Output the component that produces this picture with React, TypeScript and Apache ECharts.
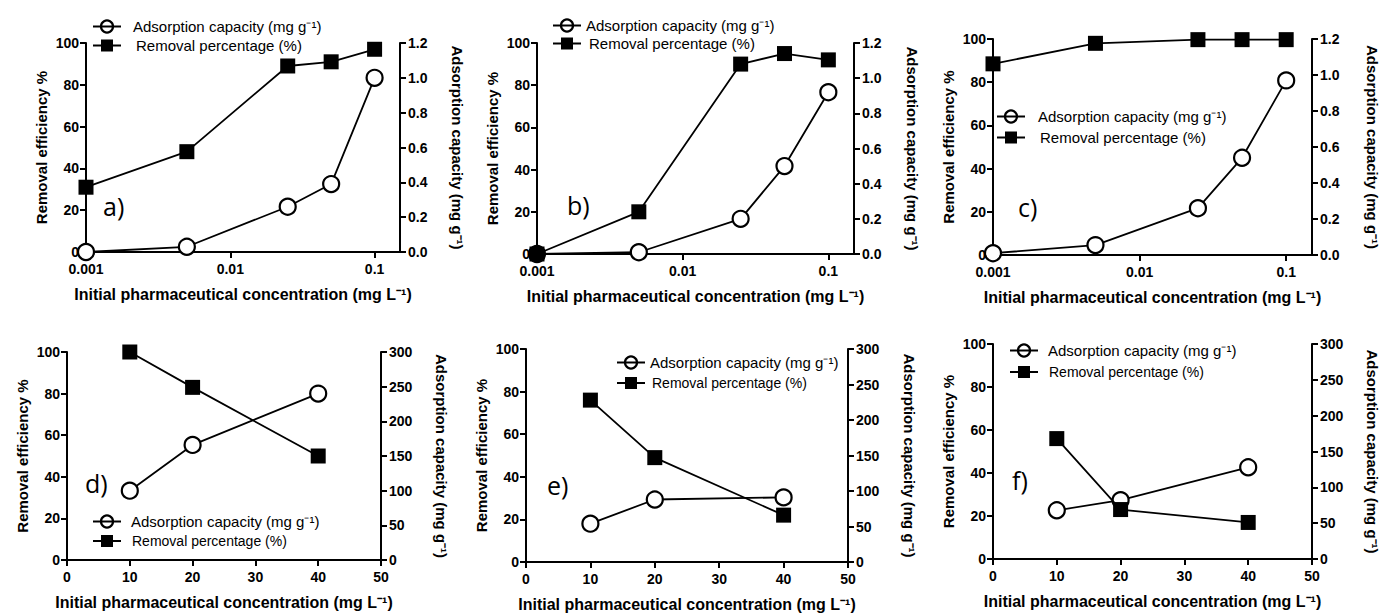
import React, { useEffect, useRef } from "react";
import * as echarts from "echarts";

// ---------- data ----------
const logConc = [0.001, 0.005, 0.025, 0.05, 0.1];
const linConc = [10, 20, 40];

const removalA = [31, 48, 89, 91, 97];
const adsorptionA = [0.0, 0.03, 0.26, 0.39, 1.0];
const removalB = [0, 20, 90, 95, 92];
const adsorptionB = [0.0, 0.01, 0.2, 0.5, 0.92];
const removalC = [88.5, 98, 99.7, 99.7, 99.7];
const adsorptionC = [0.01, 0.055, 0.26, 0.54, 0.97];
const removalD = [100, 83, 50];
const adsorptionD = [100, 166, 240];
const removalE = [76, 49, 22];
const adsorptionE = [54, 88, 91];
const removalF = [56, 23, 17];
const adsorptionF = [68, 82, 128];

const panelLabels = ["a)", "b)", "c)", "d)", "e)", "f)"];
const adsName = "Adsorption capacity (mg g\u207B\u00B9)";
const remName = "Removal percentage (%)";
const xName = "Initial pharmaceutical concentration (mg L\u207B\u00B9)";
const leftName = "Removal efficiency %";
const rightName = "Adsorption capacity (mg g\u207B\u00B9)";

// ---------- layout ----------
const panels = [
  { x: logConc, rem: removalA, ads: adsorptionA, log: true, rMax: 1.2, rInt: 0.2, rGap: 50,
    grid: { left: 86, top: 43, width: 314, height: 209 },
    legend: { left: 92, top: 19, itemGap: 4, remSize: 15, adsPad: 7, remPad: 10 }, label: [103, 206] },
  { x: logConc, rem: removalB, ads: adsorptionB, log: true, rMax: 1.2, rInt: 0.2, rGap: 51,
    grid: { left: 537, top: 43, width: 317, height: 211 },
    legend: { left: 552, top: 18, itemGap: 3, remSize: 15, adsPad: 0, remPad: 3 }, label: [567, 205] },
  { x: logConc, rem: removalC, ads: adsorptionC, log: true, rMax: 1.2, rInt: 0.2, rGap: 53,
    grid: { left: 993, top: 39, width: 322, height: 216 },
    legend: { left: 996, top: 109, itemGap: 6, remSize: 15, adsPad: 8, remPad: 10 }, label: [1018, 207] },
  { x: linConc, rem: removalD, ads: adsorptionD, log: false, rMax: 300, rInt: 50, rGap: 53,
    grid: { left: 67, top: 352, width: 314, height: 208 },
    legend: { left: 92, top: 514, itemGap: 5, remSize: 14, adsPad: 5, remPad: 6 }, label: [85, 483] },
  { x: linConc, rem: removalE, ads: adsorptionE, log: false, rMax: 300, rInt: 50, rGap: 54,
    grid: { left: 526, top: 349, width: 322, height: 214 },
    legend: { left: 616, top: 355, itemGap: 6, remSize: 14, adsPad: 0, remPad: 2 }, label: [547, 485] },
  { x: linConc, rem: removalF, ads: adsorptionF, log: false, rMax: 300, rInt: 50, rGap: 53,
    grid: { left: 993, top: 344, width: 322, height: 215 },
    legend: { left: 1009, top: 343, itemGap: 7, remSize: 14, adsPad: 5, remPad: 6 }, label: [1012, 480] },
];

const FONT = "'Liberation Sans', Arial, sans-serif";
const axisLineStyle = { lineStyle: { color: "#000", width: 2 } };
const tickStyle = { show: true, length: 6, lineStyle: { color: "#000", width: 2 } };
const labelStyle = { color: "#000", fontFamily: FONT, fontWeight: "bold" as const, fontSize: 14 };
const nameStyle = { color: "#000", fontFamily: FONT, fontWeight: "bold" as const, fontSize: 15 };
const xNameStyle = { ...nameStyle, fontSize: 16 };

function buildOption() {
  const grid: any[] = [];
  const xAxis: any[] = [];
  const yAxis: any[] = [];
  const series: any[] = [];
  const legend: any[] = [];
  const graphic: any[] = [];

  panels.forEach((p, i) => {
    grid.push({ ...p.grid, containLabel: false });
    if (p.log) {
      xAxis.push({
        gridIndex: i, type: "log", logBase: 10, min: 0.001, max: 0.15,
        axisLine: { ...axisLineStyle, onZero: false }, axisTick: tickStyle, splitLine: { show: false },
        axisLabel: {
          ...labelStyle, margin: 10, showMaxLabel: false,
          formatter: (v: number) => String(Math.pow(10, Math.round(Math.log10(v)))),
        },
        name: xName, nameLocation: "middle", nameGap: 34, nameTextStyle: xNameStyle,
      });
    } else {
      xAxis.push({
        gridIndex: i, type: "value", min: 0, max: 50, interval: 10,
        axisLine: { ...axisLineStyle, onZero: false }, axisTick: tickStyle, splitLine: { show: false },
        axisLabel: { ...labelStyle, margin: 10 },
        name: xName, nameLocation: "middle", nameGap: 34, nameTextStyle: xNameStyle,
      });
    }
    yAxis.push({
      gridIndex: i, type: "value", position: "left", min: 0, max: 100, interval: 20,
      axisLine: { show: true, ...axisLineStyle }, axisTick: tickStyle, splitLine: { show: false },
      axisLabel: { ...labelStyle, margin: 7 },
      name: leftName, nameLocation: "middle", nameRotate: 90, nameGap: 37, nameTextStyle: nameStyle,
    });
    yAxis.push({
      gridIndex: i, type: "value", position: "right", min: 0, max: p.rMax, interval: p.rInt,
      axisLine: { show: true, ...axisLineStyle }, axisTick: tickStyle, splitLine: { show: false },
      axisLabel: {
        ...labelStyle, margin: 8,
        formatter: (v: number) => (p.rMax < 10 ? v.toFixed(1) : String(v)),
      },
      name: rightName, nameLocation: "middle", nameRotate: -90, nameGap: p.rGap, nameTextStyle: nameStyle,
    });
    series.push({
      type: "line", name: adsName, xAxisIndex: i, yAxisIndex: 2 * i + 1,
      data: p.x.map((x, j) => [x, p.ads[j]]),
      symbol: "circle", symbolSize: 16,
      lineStyle: { color: "#000", width: 1.8 },
      itemStyle: { color: "#fff", borderColor: "#000", borderWidth: 2.2 },
      z: 3,
    });
    series.push({
      type: "line", name: remName, xAxisIndex: i, yAxisIndex: 2 * i,
      data: p.x.map((x, j) => [x, p.rem[j]]),
      symbol: "rect", symbolSize: 15,
      lineStyle: { color: "#000", width: 1.8 },
      itemStyle: { color: "#000" },
      z: 4,
    });
    legend.push({
      orient: "vertical", left: p.legend.left, top: p.legend.top, itemGap: p.legend.itemGap,
      itemWidth: 28, itemHeight: 15, selectedMode: false, padding: 0,
      formatter: (name: string) => (name === remName ? `{r|${name}}` : `{a|${name}}`),
      textStyle: {
        color: "#000", fontFamily: FONT, fontSize: 15,
        rich: {
          a: { fontSize: 15, fontFamily: FONT, color: "#000", padding: [0, 0, 0, p.legend.adsPad] },
          r: { fontSize: p.legend.remSize, fontFamily: FONT, color: "#000", padding: [0, 0, 0, p.legend.remPad] },
        },
      },
      data: [
        { name: adsName, itemStyle: { color: "transparent", borderColor: "#000", borderWidth: 2.2 } },
        { name: remName },
      ],
    });
    graphic.push({
      type: "text", x: p.label[0], y: p.label[1],
      style: {
        text: panelLabels[i], fill: "#000", fontSize: 25, fontFamily: "'Open Sans', sans-serif",
        textVerticalAlign: "middle", verticalAlign: "middle",
      },
    });
  });

  return {
    animation: false,
    backgroundColor: "#fff",
    textStyle: { fontFamily: FONT },
    grid, xAxis, yAxis, series, legend, graphic,
  };
}

export default function App() {
  const ref = useRef<HTMLDivElement>(null);
  useEffect(() => {
    if (!ref.current) return;
    const chart = echarts.init(ref.current, undefined, { renderer: "svg" });
    chart.setOption(buildOption() as any);
    return () => chart.dispose();
  }, []);
  return (
    <div
      ref={ref}
      style={{ position: "absolute", left: 0, top: 0, width: 1381, height: 613, background: "#fff" }}
    />
  );
}
